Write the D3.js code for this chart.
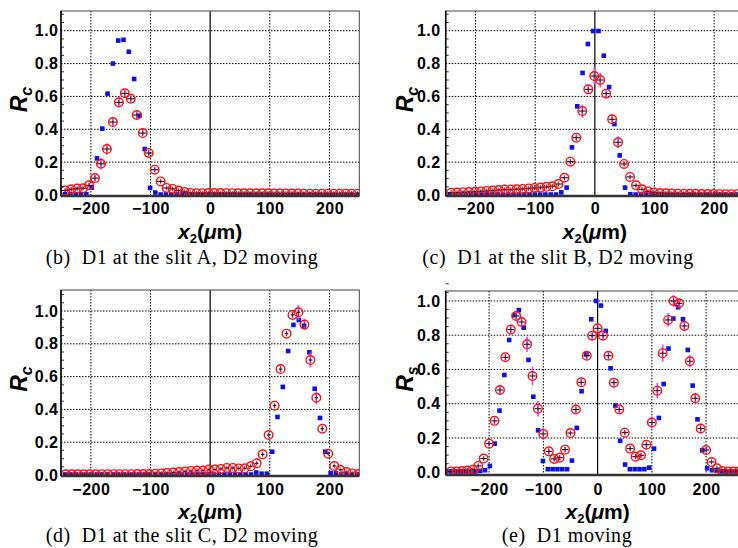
<!DOCTYPE html>
<html>
<head>
<meta charset="utf-8">
<script src="https://cdn.jsdelivr.net/npm/d3@7"></script>
<style>
  body { margin: 0; background: #fff; }
  svg { display: block; }
</style>
</head>
<body>
<svg id="fig" width="738" height="548"></svg>
<script>
// ---- data ----

// blue squares share one x grid (um)
const blueX = [-243.1,-234.2,-225.2,-216.4,-207.5,-198.6,-189.7,-180.8,-171.9,-163.0,-154.1,-145.2,-136.3,-127.4,-118.5,-109.6,-100.7,-91.8,-82.9,-74.0,-65.1,-56.2,-47.3,-38.4,-29.5,-20.6,-11.7,-2.8,6.1,15.0,23.9,32.8,41.7,50.6,59.5,68.4,77.3,86.2,95.1,104.0,112.9,121.8,130.7,139.6,148.5,157.4,166.3,175.2,184.1,193.0,201.9,210.8,219.7,228.6,237.5,246.4];
const blueXe = [-278.7,-269.8,-260.9,-252.0,-243.1,-234.2,-225.2,-216.4,-207.5,-198.6,-189.7,-180.8,-171.9,-163.0,-154.1,-145.2,-136.3,-127.4,-118.5,-109.6,-100.7,-91.8,-82.9,-74.0,-65.1,-56.2,-47.3,-38.4,-29.5,-20.6,-11.7,-2.8,6.1,15.0,23.9,32.8,41.7,50.6,59.5,68.4,77.3,86.2,95.1,104.0,112.9,121.8,130.7,139.6,148.5,157.4,166.3,175.2,184.1,193.0,201.9,210.8,219.7,228.6,237.5,246.4,255.3];

const blueB = [.005,.005,.005,.005,.005,.045,.223,.404,.617,.80,.94,.945,.872,.706,.483,.28,.043,.015,
  .003,.003,.003,.003,.003,.003,.003,.003,.003,.003,.003,.003,.003,.003,.003,.003,.003,.003,.003,.003,
  .003,.003,.003,.003,.003,.003,.003,.003,.003,.003,.003,.003,.003,.003,.003,.003,.003,.003];
const blueC = [.003,.003,.003,.003,.003,.003,.003,.003,.003,.003,.003,.003,.003,.003,.003,.003,.003,.003,.003,.003,.003,
  .016,.045,.29,.54,.743,.919,.998,.998,.848,.657,.432,.241,.045,.005,
  .003,.003,.003,.003,.003,.003,.003,.003,.003,.003,.003,.003,.003,.003,.003,.003,.003,.003,.003,.003,.003];
const blueD = [.003,.003,.003,.003,.003,.003,.003,.003,.003,.003,.003,.003,.003,.003,.003,.003,.003,.003,
  .003,.003,.003,.003,.003,.003,.003,.003,.003,.003,.003,.003,.003,.003,.003,.003,.003,.003,
  .015,.008,.008,.142,.354,.537,.756,.915,.945,.91,.748,.526,.348,.142,.012,.01,.003,.003,.003,.003];
const blueE = [.005,.005,.005,.005,.005,.005,.005,.008,.012,.037,.167,.36,.568,.772,.917,.946,.844,.656,.441,.245,.066,
  .018,.018,.018,.018,.018,.068,.259,.473,.689,.893,1.0,.973,.825,.607,.389,.183,.045,
  .018,.018,.018,.018,.027,.138,.317,.515,.722,.897,.963,.893,.714,.506,.309,.128,.023,.012,.008,
  .005,.005,.005,.005];

// red circles (measured) with vertical error bars
const redXB = [-243,-233,-223,-213,-203,-193,-183,-173,-163,-153,-143,-133,-123,-113,-103,-93,-83,-73,-63,-53,-43,-33,-23,-13,-3,
  7,17,27,37,47,57,67,77,87,97,107,117,127,137,147,157,167,177,187,197,207,217,227,237,247];
const redB = [.028,.035,.039,.041,.059,.103,.19,.28,.444,.564,.619,.586,.487,.377,.256,.154,.083,.043,.037,.027,.019,.013,.011,.011,.012,
  .012,.012,.011,.011,.01,.01,.01,.01,.01,.01,.009,.009,.009,.009,.009,.008,.008,.008,.008,.008,.008,.008,.008,.008,.008];
const errB = [.01,.01,.01,.01,.015,.02,.035,.035,.03,.03,.02,.02,.025,.02,.02,.015,.01,
  .005,.005,.005,.005,.005,.005,.005,.005,.005,.005,.005,.005,.005,.005,.005,.005,.005,.005,.005,.005,
  .005,.005,.005,.005,.005,.005,.005,.005,.005,.005,.005,.005,.005];

const redXC = [-241,-231,-221,-211,-201,-191,-181,-171,-161,-151,-141,-131,-121,-111,-101,-91,-81,-71,-61,-51,-41,-31,-21,-11,-1,
  9,19,29,39,49,59,69,79,89,99,109,119,129,139,149,159,169,179,189,199,209,219,229,239,249];
const redC = [.014,.015,.017,.018,.02,.022,.025,.027,.03,.033,.033,.035,.037,.04,.043,.045,.05,.053,.067,.105,
  .203,.349,.511,.643,.724,.70,.617,.461,.321,.189,.11,.059,.035,.022,.016,.012,.01,.009,.008,.008,
  .007,.007,.006,.006,.006,.005,.005,.005,.005,.005];
const errC = [.008,.008,.008,.008,.008,.008,.008,.008,.008,.008,.008,.008,.008,.008,.008,.008,.008,.008,.008,.01,
  .015,.02,.04,.025,.05,.045,.02,.03,.035,.015,.01,.008,.008,.008,.008,.008,.008,.008,.008,.008,
  .008,.008,.008,.008,.008,.008,.008,.008,.008,.008];

const redXD = [-242,-232,-222,-212,-202,-192,-182,-172,-162,-152,-142,-132,-122,-112,-102,-92,-82,-72,-62,-52,-42,-32,-22,-12,-2,
  8,18,28,38,48,58,68,78,88,98,108,118,128,138,148,158,168,178,188,198,208,218,228,238,248];
const redD = [.004,.004,.004,.004,.004,.004,.005,.005,.005,.005,.005,.005,.006,.006,.006,.008,.01,.012,.015,.018,
  .022,.025,.027,.027,.033,.033,.037,.043,.043,.04,.041,.053,.071,.126,.244,.423,.646,.862,.976,.992,
  .917,.701,.471,.282,.13,.055,.032,.018,.01,.006];
const errD = [.006,.006,.006,.006,.006,.006,.006,.006,.006,.006,.006,.006,.006,.006,.006,.006,.006,.006,.006,.006,
  .006,.006,.006,.006,.006,.006,.006,.006,.006,.006,.006,.006,.008,.01,.01,.012,.02,.015,.02,.045,
  .035,.045,.04,.015,.01,.008,.006,.006,.006,.006];

const redXE = [-270,-260,-250,-240,-230,-220,-210,-200,-190,-180,-170,-160,-150,-140,-130,-120,-110,-100,-90,-80,-70,-60,-50,-40,-30,-20,-10,
  0,10,20,30,40,50,60,70,80,90,100,110,120,130,140,150,160,170,180,190,200,210,220,230,240,250,260];
const redE = [.005,.005,.007,.01,.015,.037,.08,.167,.30,.48,.671,.833,.912,.877,.747,.562,.371,.224,.122,.078,
  .085,.132,.229,.366,.525,.68,.797,.84,.797,.68,.523,.366,.231,.138,.091,.099,.161,.29,.476,.695,
  .889,1.0,.986,.854,.648,.432,.255,.13,.06,.023,.008,.005,.004,.004];
const errE = [.005,.005,.005,.005,.008,.01,.012,.015,.02,.025,.02,.02,.02,.025,.045,.055,.045,.035,.02,.015,
  .015,.015,.015,.02,.02,.02,.025,.03,.025,.02,.02,.02,.015,.015,.015,.015,.02,.035,.045,.05,
  .04,.035,.03,.03,.035,.03,.03,.015,.01,.008,.005,.005,.005,.005];

// ticks and labels
const xTicks = [-200, -100, 0, 100, 200];
const yTicks = [0, 0.2, 0.4, 0.6, 0.8, 1.0];
const yMinor = [0.05,0.1,0.15,0.25,0.3,0.35,0.45,0.5,0.55,0.65,0.7,0.75,0.85,0.9,0.95,1.05,1.1];
const captions = ["(b)  D1 at the slit A, D2 moving", "(c)  D1 at the slit B, D2 moving",
                  "(d)  D1 at the slit C, D2 moving", "(e)  D1 moving"];

// ---- layout of the four panels ----
const panels = [
  {id:"b", left:61, right:359.3, top:11, bottom:196, xDom:[-250,250], yDom:[-0.006,1.12],
   bx:blueX, by:blueB, rx:redXB, ry:redB, re:errB, xerr:7, sub:"c", cap:captions[0],
   ylx:27, tpad:2.5, tickBase:214, xlBase:239, capX:182, capBase:263.5},
  {id:"c", left:445.7, right:744, top:11, bottom:196, xDom:[-250,250], yDom:[-0.006,1.12],
   bx:blueX, by:blueC, rx:redXC, ry:redC, re:errC, xerr:6, sub:"c", cap:captions[1],
   ylx:413, tpad:5, tickBase:214, xlBase:239, capX:558, capBase:263.5},
  {id:"d", left:61, right:359.3, top:290, bottom:476, xDom:[-250,250], yDom:[-0.006,1.128],
   bx:blueX, by:blueD, rx:redXD, ry:redD, re:errD, xerr:3, sub:"c", cap:captions[2],
   ylx:27, tpad:2.5, tickBase:495, xlBase:518.5, capX:182, capBase:542},
  {id:"e", left:445.7, right:749.5, top:291, bottom:475, xDom:[-280,280], yDom:[-0.016,1.058],
   bx:blueXe, by:blueE, rx:redXE, ry:redE, re:errE, xerr:6, sub:"s", cap:captions[3],
   ylx:413, tpad:5, tickBase:495, xlBase:518.5, capX:567, capBase:542}
];

const fig = d3.select("#fig");
const defs = fig.append("defs");

function drawPanel(p) {
  const x = d3.scaleLinear().domain(p.xDom).range([p.left, p.right]);
  const y = d3.scaleLinear().domain(p.yDom).range([p.bottom, p.top]);
  const g = fig.append("g").attr("class", "panel-" + p.id);

  defs.append("clipPath").attr("id", "clip-" + p.id)
    .append("rect")
      .attr("x", p.left).attr("y", p.top)
      .attr("width", p.right - p.left).attr("height", p.bottom - p.top);

  // dotted grid
  g.append("g").selectAll("line").data(xTicks.filter(d => d !== 0)).join("line")
    .attr("x1", d => x(d)).attr("x2", d => x(d))
    .attr("y1", p.top).attr("y2", p.bottom)
    .attr("stroke", "#000").attr("stroke-width", 1).attr("stroke-dasharray", "1.5,1.5");
  g.append("g").selectAll("line").data(yTicks.filter(d => d > 0)).join("line")
    .attr("x1", p.left).attr("x2", p.right)
    .attr("y1", d => y(d)).attr("y2", d => y(d))
    .attr("stroke", "#000").attr("stroke-width", 1).attr("stroke-dasharray", "1.5,1.5");

  // solid line at x = 0
  g.append("line")
    .attr("x1", x(0)).attr("x2", x(0)).attr("y1", p.top).attr("y2", p.bottom)
    .attr("stroke", "#000").attr("stroke-width", 1.2);

  // points
  const pts = g.append("g").attr("clip-path", `url(#clip-${p.id})`);
  const sq = 4.6;
  pts.selectAll("rect.blue").data(p.bx.map((v, i) => ({x: v, y: p.by[i]}))).join("rect")
    .attr("class", "blue")
    .attr("x", d => x(d.x) - sq / 2).attr("y", d => y(d.y) - sq / 2)
    .attr("width", sq).attr("height", sq)
    .attr("fill", "#0a12e8");

  const red = p.rx.map((v, i) => ({x: v, y: p.ry[i], e: p.re[i]}));
  pts.selectAll("line.ey").data(red).join("line")
    .attr("class", "ey")
    .attr("x1", d => x(d.x)).attr("x2", d => x(d.x))
    .attr("y1", d => y(d.y - d.e)).attr("y2", d => y(d.y + d.e))
    .attr("stroke", "#ee44ee").attr("stroke-width", 1.6);
  pts.selectAll("line.ex").data(red).join("line")
    .attr("class", "ex")
    .attr("x1", d => x(d.x - p.xerr)).attr("x2", d => x(d.x + p.xerr))
    .attr("y1", d => y(d.y)).attr("y2", d => y(d.y))
    .attr("stroke", "#000").attr("stroke-width", 1);
  pts.selectAll("line.ec").data(red).join("line")
    .attr("class", "ec")
    .attr("x1", d => x(d.x)).attr("x2", d => x(d.x))
    .attr("y1", d => y(d.y) - 2.5).attr("y2", d => y(d.y) + 2.5)
    .attr("stroke", "#333").attr("stroke-width", 0.8);
  pts.selectAll("circle").data(red).join("circle")
    .attr("cx", d => x(d.x)).attr("cy", d => y(d.y)).attr("r", 4.3)
    .attr("fill", "none").attr("stroke", "#ff1010").attr("stroke-width", 1.4);

  // minor ticks on left frame
  g.append("g").selectAll("line").data(yMinor).join("line")
    .attr("x1", p.left).attr("x2", p.left + 3)
    .attr("y1", d => y(d)).attr("y2", d => y(d))
    .attr("stroke", "#000").attr("stroke-width", 0.8);

  // frame
  g.append("rect")
    .attr("x", p.left).attr("y", p.top)
    .attr("width", p.right - p.left).attr("height", p.bottom - p.top)
    .attr("fill", "none").attr("stroke", "#444").attr("stroke-width", 1);
  g.append("line")
    .attr("x1", p.left).attr("x2", p.left).attr("y1", p.top).attr("y2", p.bottom)
    .attr("stroke", "#000").attr("stroke-width", 1.5);
  g.append("line")
    .attr("x1", p.left).attr("x2", p.right).attr("y1", p.bottom).attr("y2", p.bottom)
    .attr("stroke", "#333").attr("stroke-width", 2.6);

  // tick labels
  const yAxis = g.append("g")
    .attr("transform", `translate(${p.left},0)`)
    .call(d3.axisLeft(y).tickValues(yTicks).tickFormat(d3.format(".1f")).tickSize(0).tickPadding(p.tpad));
  const xAxis = g.append("g")
    .attr("transform", `translate(0,${p.bottom})`)
    .call(d3.axisBottom(x).tickValues(xTicks).tickSize(0).tickPadding(p.tickBase - p.bottom - 11.4));
  [yAxis, xAxis].forEach(a => {
    a.select(".domain").remove();
    a.selectAll("text")
      .attr("font-family", "'Liberation Sans', Arial, sans-serif")
      .attr("font-weight", "bold").attr("font-size", 16)
      .attr("letter-spacing", "0.5px").attr("fill", "#000");
  });

  // y label
  const yl = g.append("text")
    .attr("transform", `translate(${p.ylx},${(p.top + p.bottom) / 2 - 4}) rotate(-90)`)
    .attr("text-anchor", "middle")
    .attr("font-family", "'Liberation Sans', Arial, sans-serif")
    .attr("font-weight", "bold").attr("font-size", 23);
  yl.append("tspan").attr("font-style", "italic").text("R");
  yl.append("tspan").attr("font-style", "italic").attr("font-size", 16).attr("dy", 5).text(p.sub);

  // x label
  const xl = g.append("text")
    .attr("x", x(0)).attr("y", p.xlBase)
    .attr("text-anchor", "middle")
    .attr("font-family", "'Liberation Sans', Arial, sans-serif")
    .attr("font-weight", "bold").attr("font-size", 21);
  xl.append("tspan").attr("font-style", "italic").text("x");
  xl.append("tspan").attr("font-size", 13).attr("dy", 4).text("2");
  xl.append("tspan").attr("dy", -4).text("(");
  xl.append("tspan").attr("font-style", "italic").text("\u03bc");
  xl.append("tspan").text("m)");

  // caption
  g.append("text")
    .attr("x", p.capX).attr("y", p.capBase)
    .attr("text-anchor", "middle")
    .attr("font-family", "'Liberation Serif', 'Times New Roman', serif")
    .attr("font-size", 20)
    .attr("letter-spacing", "0.55px")
    .style("white-space", "pre")
    .text(p.cap);
}

panels.forEach(drawPanel);
</script>
</body>
</html>
